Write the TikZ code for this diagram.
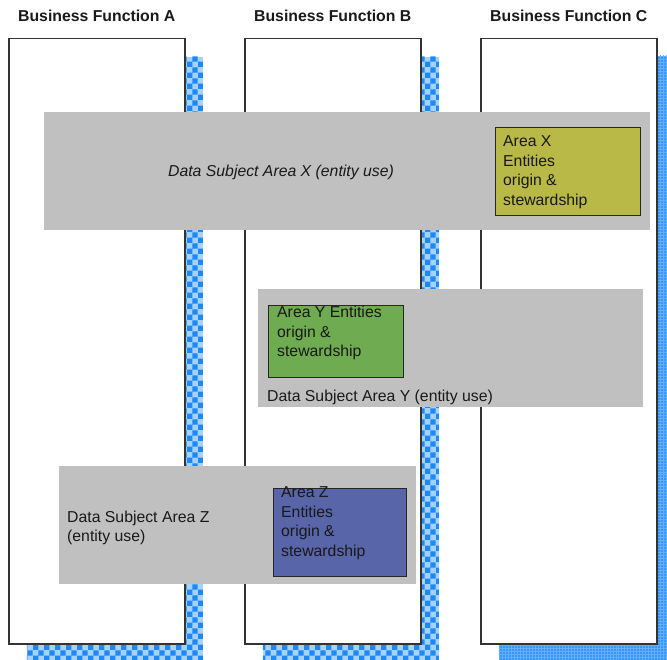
\documentclass[tikz,border=0pt]{standalone}
\usepackage{fontspec}
\setmainfont{Liberation Sans}
\usetikzlibrary{positioning,shadows,patterns}
\definecolor{bandgray}{HTML}{C0C0C0}
\definecolor{shadelight}{HTML}{A6D2FF}
\definecolor{shadeblue}{HTML}{1E88F5}
\definecolor{shadeC}{HTML}{3896FA}
\definecolor{shadeCgrid}{HTML}{62AEFF}
\definecolor{areaXcol}{HTML}{B9B947}
\definecolor{areaYcol}{HTML}{6FAB50}
\definecolor{areaZcol}{HTML}{5865A8}
\begin{document}
\begin{tikzpicture}[x=1bp,y=-1bp,
  every node/.style={inner sep=0pt, text=black!90, font=\fontsize{15.8bp}{19.5bp}\selectfont},
  column/.style={draw=black!80, line width=1.5bp, fill=white, anchor=north west,
    minimum width=176bp, minimum height=605bp},
  colshadow/.style={drop shadow={shadow xshift=18bp, shadow yshift=-18bp, opacity=1, fill=shadelight},
    drop shadow={shadow xshift=18bp, shadow yshift=-18bp, opacity=1, pattern=checkerboard, pattern color=shadeblue}},
  colshadowC/.style={drop shadow={shadow xshift=18bp, shadow yshift=-17bp, opacity=1, fill=shadeC},
    drop shadow={shadow xshift=18bp, shadow yshift=-17bp, opacity=1, pattern=grid, pattern color=shadeCgrid}},
  coltitle/.style={font=\fontsize{15.8bp}{19.5bp}\selectfont\bfseries, anchor=base},
  band/.style={fill=bandgray, anchor=north west, minimum height=118bp},
  entity/.style={draw=black!85, line width=0.8bp, anchor=north west},
  lines/.style={align=left, anchor=north west}]
\useasboundingbox (0,0) rectangle (667,660);
\node[column, colshadow] (colA) at (8,38) {};
\node[column, colshadow] (colB) at (244,38) {};
\node[column, colshadowC] (colC) at (480,38) {};
\node[coltitle, above=16bp of colA.north, anchor=base] (titleA) {Business Function A};
\node[coltitle, above=16bp of colB.north, anchor=base] (titleB) {Business Function B};
\node[coltitle, above=16bp of colC.north, anchor=base] (titleC) {Business Function C};
\node[band, minimum width=606bp] (bandX) at (44,112) {};
\node[band, minimum width=385bp] (bandY) at (258,289) {};
\node[band, minimum width=357bp] (bandZ) at (59,466) {};
\node[entity, fill=areaXcol, minimum width=145bp, minimum height=88bp] (areaX) at (495,127) {};
\node[entity, fill=areaYcol, minimum width=135bp, minimum height=72bp] (areaY) at (268,305) {};
\node[entity, fill=areaZcol, minimum width=133bp, minimum height=88bp] (areaZ) at (273,488) {};
\node[anchor=base, font=\fontsize{15.8bp}{19.5bp}\selectfont\itshape] (useX) at (281,176.5) {Data Subject Area X (entity use)};
\node[anchor=base west] (useY) at (267,401) {Data Subject Area Y (entity use)};
\node[lines] (useZ) at (67,510.5) {Data Subject Area Z\\(entity use)};
\node[lines] (ownX) at (503,135.5) {Area X\\Entities\\origin \&\\stewardship};
\node[lines] (ownY) at (277,306) {Area Y Entities\\origin \&\\stewardship};
\node[lines] (ownZ) at (281,486.5) {Area Z\\Entities\\origin \&\\stewardship};
\end{tikzpicture}
\end{document}
